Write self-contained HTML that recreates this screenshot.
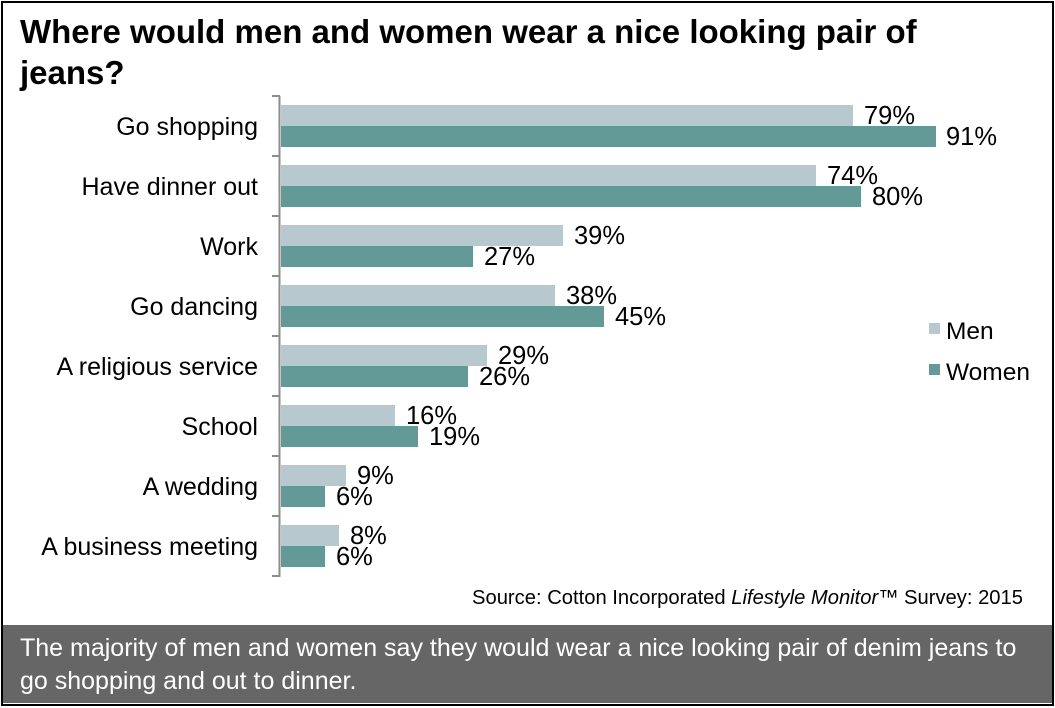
<!DOCTYPE html>
<html><head><style>
body{margin:0;width:1055px;height:708px;background:#fff;overflow:hidden;font-family:"Liberation Sans",Arial,sans-serif;}
.frame{position:absolute;left:1px;top:1px;border:2px solid #000;box-sizing:border-box;width:1053px;height:705px;}
</style></head><body>
<div class="frame"></div>
<svg width="1055" height="708" style="position:absolute;left:0;top:0" font-family="Liberation Sans, Arial, sans-serif">
<text x="20" y="43" font-size="33" font-weight="bold">Where would men and women wear a nice looking pair of</text>
<text x="20" y="84" font-size="33" font-weight="bold">jeans?</text>
<g fill="#b7c9cf">
<rect x="281" y="105" width="572" height="21"/>
<rect x="281" y="165" width="535" height="21"/>
<rect x="281" y="225" width="282" height="21"/>
<rect x="281" y="285" width="274" height="21"/>
<rect x="281" y="345" width="206" height="21"/>
<rect x="281" y="405" width="114" height="21"/>
<rect x="281" y="465" width="65" height="21"/>
<rect x="281" y="525" width="58" height="21"/>
</g>
<g fill="#639996">
<rect x="281" y="126" width="655" height="21"/>
<rect x="281" y="186" width="580" height="21"/>
<rect x="281" y="246" width="192" height="21"/>
<rect x="281" y="306" width="323" height="21"/>
<rect x="281" y="366" width="187" height="21"/>
<rect x="281" y="426" width="137" height="21"/>
<rect x="281" y="486" width="44" height="21"/>
<rect x="281" y="546" width="44" height="21"/>
</g>
<g font-size="25.5">
<text x="864" y="124">79%</text><text x="946" y="145">91%</text>
<text x="827" y="184">74%</text><text x="872" y="205">80%</text>
<text x="574" y="244">39%</text><text x="484" y="265">27%</text>
<text x="566" y="304">38%</text><text x="615" y="325">45%</text>
<text x="498" y="364">29%</text><text x="479" y="385">26%</text>
<text x="406" y="424">16%</text><text x="429" y="445">19%</text>
<text x="357" y="484">9%</text><text x="336" y="505">6%</text>
<text x="350" y="544">8%</text><text x="336" y="565">6%</text>
</g>
<g font-size="25" text-anchor="end">
<text x="258" y="135">Go shopping</text>
<text x="258" y="195">Have dinner out</text>
<text x="258" y="255">Work</text>
<text x="258" y="315">Go dancing</text>
<text x="258" y="375">A religious service</text>
<text x="258" y="435">School</text>
<text x="258" y="495">A wedding</text>
<text x="258" y="555">A business meeting</text>
</g>
<line x1="279.5" y1="96" x2="279.5" y2="577" stroke="#8c8c8c" stroke-width="2"/>
<g stroke="#8c8c8c" stroke-width="2">
<line x1="272" y1="96" x2="280" y2="96"/><line x1="272" y1="156" x2="280" y2="156"/><line x1="272" y1="216" x2="280" y2="216"/><line x1="272" y1="276" x2="280" y2="276"/><line x1="272" y1="336" x2="280" y2="336"/><line x1="272" y1="396" x2="280" y2="396"/><line x1="272" y1="456" x2="280" y2="456"/><line x1="272" y1="516" x2="280" y2="516"/><line x1="272" y1="576" x2="280" y2="576"/>
</g>
<rect x="929" y="323" width="11" height="11" fill="#b7c9cf"/>
<rect x="929" y="364" width="11" height="11" fill="#639996"/>
<text x="946" y="339" font-size="24.5">Men</text>
<text x="946" y="380" font-size="24.5">Women</text>
<text x="1023" y="604" font-size="20.2" text-anchor="end">Source: Cotton Incorporated <tspan font-style="italic">Lifestyle Monitor</tspan>™ Survey: 2015</text>
<rect x="3" y="625" width="1049" height="78" fill="#666"/>
<text x="20" y="656" font-size="25" fill="#fff">The majority of men and women say they would wear a nice looking pair of denim jeans to</text>
<text x="20" y="689" font-size="25" fill="#fff">go shopping and out to dinner.</text>
</svg>
</body></html>
